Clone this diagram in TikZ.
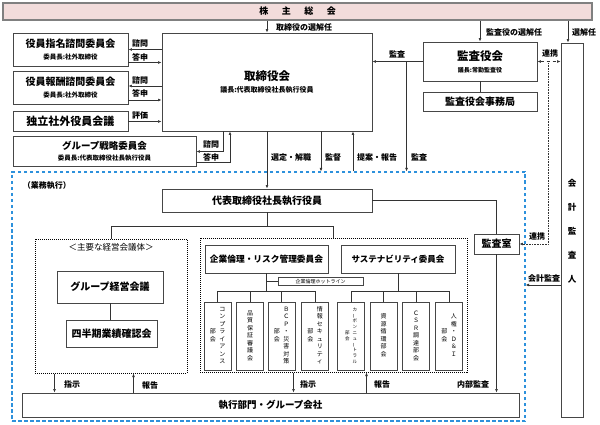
\documentclass[tikz,border=0pt]{standalone}
\usepackage{fontspec}
\setmainfont{Noto Sans CJK JP}
\usetikzlibrary{arrows.meta,calc}
\definecolor{soukaipink}{RGB}{242,220,219}
\definecolor{waku}{RGB}{70,70,70}
\definecolor{gyoumublue}{RGB}{45,145,220}
\newcommand{\tcol}[1]{\begin{tabular}{@{}c@{}}#1\end{tabular}}
\newcommand{\tbar}{\rotatebox[origin=c]{90}{ー}}

\begin{document}
\begin{tikzpicture}[x=1pt,y=-1pt,
  box/.style={draw=waku, line width=0.9pt, fill=white, inner sep=0pt, align=center, font=\bfseries\fontsize{10}{12}\selectfont},
  dotbox/.style={draw=black, densely dotted, line width=1pt, inner sep=0pt},
  lbl/.style={font=\bfseries\fontsize{8}{9}\selectfont, inner sep=0pt},
  conn/.style={draw=black!80, line width=0.6pt},
  arr/.style={conn, -{Latex[length=3.5pt,width=2.8pt]}},
  tate/.style={draw=waku, line width=0.9pt, fill=white, inner sep=0pt, minimum width=27pt, minimum height=68pt, font=\fontsize{6}{7.5}\selectfont}]
\useasboundingbox (0,0) rectangle (600,425);

\node[box, minimum width=589pt, minimum height=17pt, fill=soukaipink, draw=black!50, line width=1.2pt, font=\bfseries\fontsize{9}{10}\selectfont] (soukai) at (297.5,11.5) {株\hspace{1.5em}主\hspace{1.5em}総\hspace{1.5em}会};

\node[box, minimum width=115pt, minimum height=33pt] (shimei) at (70.5,49.5) {役員指名諮問委員会\\{\fontsize{6.5}{8}\selectfont 委員長:社外取締役}};
\node[box, minimum width=115pt, minimum height=33pt] (houshu) at (70.5,87.5) {役員報酬諮問委員会\\{\fontsize{6.5}{8}\selectfont 委員長:社外取締役}};
\node[box, minimum width=115pt, minimum height=20pt, font=\bfseries\fontsize{11}{12}\selectfont] (dokuritsu) at (70.5,121.5) {独立社外役員会議};
\node[box, minimum width=183pt, minimum height=30pt, font=\bfseries\fontsize{9.5}{11}\selectfont] (senryaku) at (104.5,151.5) {グループ戦略委員会\\{\fontsize{6.5}{8}\selectfont 委員長:代表取締役社長執行役員}};
\node[box, minimum width=210pt, minimum height=98pt] (torishimari) at (267,82) {{\fontsize{11.5}{14}\selectfont 取締役会}\\{\fontsize{7}{9}\selectfont 議長:代表取締役社長執行役員}};

\node[box, minimum width=114pt, minimum height=39pt] (kansayaku) at (480,61.5) {{\fontsize{11.5}{14}\selectfont 監査役会}\\{\fontsize{6}{8}\selectfont 議長:常勤監査役}};
\node[box, minimum width=114pt, minimum height=19pt] (jimu) at (480,101.5) {監査役会事務局};
\node[box, minimum width=22pt, minimum height=374pt, font=\bfseries\fontsize{8.5}{24}\selectfont] (kaikei) at (572,230) {\tcol{会\\計\\監\\査\\人}};

\node[draw=gyoumublue, line width=1.1pt, dash pattern=on 3.5pt off 2.5pt, minimum width=513pt, minimum height=249pt, inner sep=0pt] (gyoumu) at (268.5,296.5) {};
\node[lbl] (gyoumulbl) at (47,186) {（業務執行）};

\node[box, minimum width=210pt, minimum height=23pt] (ceo) at (267,200.5) {代表取締役社長執行役員};
\node[box, minimum width=45pt, minimum height=20pt] (kansashitsu) at (496.5,244) {監査室};
\node[box, minimum width=497pt, minimum height=24pt, font=\bfseries\fontsize{9.5}{11}\selectfont] (shikkou) at (270.5,405) {執行部門・グループ会社};

\node[dotbox, minimum width=152pt, minimum height=134pt] (kaigitai) at (111,306) {};
\node[font=\fontsize{8.5}{10}\selectfont, inner sep=0pt] (kaigitailbl) at (111,247) {＜主要な経営会議体＞};
\node[box, minimum width=106pt, minimum height=32pt] (keiei) at (110,287) {グループ経営会議};
\node[box, minimum width=91pt, minimum height=27pt] (shihanki) at (111.5,333.5) {四半期業績確認会};

\node[dotbox, minimum width=267pt, minimum height=134pt] (iinkai) at (333.5,305) {};
\node[box, minimum width=123pt, minimum height=28pt, font=\bfseries\fontsize{8.7}{10}\selectfont] (rinri) at (266.5,259) {企業倫理・リスク管理委員会};
\node[box, minimum width=114pt, minimum height=28pt, font=\bfseries\fontsize{8.5}{10}\selectfont] (sustain) at (398,259) {サステナビリティ委員会};
\node[box, minimum width=85pt, minimum height=8pt, line width=0.7pt, font=\fontsize{5}{6}\selectfont] (hotline) at (320.5,281.5) {企業倫理ホットライン};

\node[tate] (b1) at (217.5,336) {\tcol{部\\会}\hspace{3.5pt}\tcol{コ\\ン\\プ\\ラ\\イ\\ア\\ン\\ス}};
\node[tate] (b2) at (250,336) {\tcol{品\\質\\保\\証\\審\\議\\会}};
\node[tate] (b3) at (281.5,336) {\tcol{部\\会}\hspace{3.5pt}\tcol{Ｂ\\Ｃ\\Ｐ\\・\\災\\害\\対\\策}};
\node[tate] (b4) at (315,336) {\tcol{部\\会}\hspace{3.5pt}\tcol{情\\報\\セ\\キ\\ュ\\リ\\テ\\ィ}};
\node[tate, font=\fontsize{4.5}{5.8}\selectfont] (b5) at (351,336) {\tcol{部\\会}\hspace{3pt}\tcol{カ\\\tbar\\ボ\\ン\\ニ\\ュ\\\tbar\\ト\\ラ\\ル}};
\node[tate] (b6) at (383.5,336) {\tcol{資\\源\\循\\環\\部\\会}};
\node[tate] (b7) at (416,336) {\tcol{Ｃ\\Ｓ\\Ｒ\\調\\達\\部\\会}};
\node[tate] (b8) at (449,336) {\tcol{部\\会}\hspace{3.5pt}\tcol{人\\権\\・\\Ｄ\\＆\\Ｉ}};

% 株主総会から
\draw[arr] (soukai.south -| torishimari) -- (torishimari.north);
\node[lbl, anchor=west] at (276,27) {取締役の選解任};
\draw[arr] (soukai.south -| kansayaku) -- (kansayaku.north);
\node[lbl, anchor=west] at (486,32) {監査役の選解任};
\coordinate (senkai) at ($(kaikei.north)+(-4,0)$);
\draw[arr] (soukai.south -| senkai) -- (senkai);
\node[lbl, anchor=west] at (572,32) {選解任};

% 諮問・答申
\coordinate (shimeitoushin) at ($(shimei.east)+(0,13)$);
\coordinate (houshushimon) at ($(houshu.east)+(0,-1.5)$);
\coordinate (houshutoushin) at ($(houshu.east)+(0,12.5)$);
\draw[arr] (torishimari.west |- shimei.east) -- (shimei.east);
\draw[arr] (shimeitoushin) -- (shimeitoushin -| torishimari.west);
\draw[arr] (torishimari.west |- houshushimon) -- (houshushimon);
\draw[arr] (houshutoushin) -- (houshutoushin -| torishimari.west);
\draw[arr] (dokuritsu.east) -- (dokuritsu.east -| torishimari.west);
\node[lbl] at (140,43.5) {諮問};
\node[lbl] at (140,57) {答申};
\node[lbl] at (140,80.5) {諮問};
\node[lbl] at (140,93.5) {答申};
\node[lbl] at (140,115) {評価};

\coordinate (shimonx) at ($(torishimari.south)+(-44,0)$);
\coordinate (toushinx) at ($(torishimari.south)+(-37,0)$);
\draw[arr] (shimonx) |- (senryaku.east);
\draw[arr] ($(senryaku.east)+(0,11)$) -| (toushinx);
\node[lbl] at (211,144) {諮問};
\node[lbl] at (211,157) {答申};

% 監査役会から
\draw[arr] (kansayaku.west) -- (kansayaku.west -| torishimari.east);
\node[lbl] at (397,54) {監査};
\draw[conn] (kansayaku.south) -- (jimu.north);
\coordinate (kansax) at ($(kansayaku.west)+(-16,0)$);
\draw[arr] (kansax) -- (kansax |- gyoumu.north);
\node[lbl, anchor=west] at (411,157) {監査};

% 取締役会と業務執行
\draw[arr] (torishimari.south) -- (ceo.north);
\node[lbl, anchor=west] at (271,157) {選定・解職};
\coordinate (kantokux) at ($(torishimari.south)+(54,0)$);
\draw[arr] (kantokux) -- (kantokux |- gyoumu.north);
\node[lbl, anchor=west] at (325,157) {監督};
\coordinate (teianx) at ($(torishimari.south)+(86,0)$);
\draw[arr] (teianx |- gyoumu.north) -- (teianx);
\node[lbl, anchor=west] at (357,157) {提案・報告};

% 連携・会計監査
\draw[conn, dashed, {Latex[length=3.5pt,width=2.8pt]}-{Latex[length=3.5pt,width=2.8pt]}] (kansayaku.east) -- (kansayaku.east -| kaikei.west);
\node[lbl] at (550,53) {連携};
\coordinate (renkeix) at ($(kansayaku.east)+(11,0)$);
\draw[conn, densely dotted, -{Latex[length=3.5pt,width=2.8pt]}] (renkeix) |- (kansashitsu.east);
\node[lbl] at (537,236) {連携};
\coordinate (kaikeikansa) at ($(kaikei.west)+(0,55)$);
\draw[arr] (kaikeikansa) -- (kaikeikansa -| gyoumu.east);
\node[lbl] at (544,278) {会計監査};

% 監査室
\draw[conn] (ceo.east) -| (kansashitsu.north);
\draw[arr] (kansashitsu.south) -- (kansashitsu.south |- shikkou.north);
\node[lbl] at (473,384) {内部監査};

% 会議体へ
\coordinate (bunki) at ($(ceo.south)+(0,14)$);
\draw[conn] (ceo.south) -- (bunki);
\draw[conn] (kaigitai.north) |- (bunki) -| (iinkai.north);
\draw[conn] (keiei.south) -- (keiei.south |- shihanki.north);

\coordinate (rinrib) at ($(rinri.south)+(0,18)$);
\draw[conn] (rinri.south) -- (rinrib);
\draw[conn] (rinri.south |- hotline.west) -- (hotline.west);
\draw[conn] (b1.north |- rinrib) -- (b4.north |- rinrib);
\foreach \b in {b1,b2,b3,b4}
  \draw[conn] (\b.north) -- (\b.north |- rinrib);
\coordinate (sustainb) at ($(sustain.south)+(0,18)$);
\draw[conn] (sustain.south) -- (sustainb);
\draw[conn] (b5.north |- sustainb) -- (b8.north |- sustainb);
\foreach \b in {b5,b6,b7,b8}
  \draw[conn] (\b.north) -- (\b.north |- sustainb);

% 指示・報告
\coordinate (shijiL) at ($(kaigitai.south west)+(20,0)$);
\coordinate (houkokuL) at ($(kaigitai.south east)+(-54,0)$);
\coordinate (shijiR) at ($(iinkai.south west)+(94,0)$);
\coordinate (houkokuR) at ($(iinkai.south west)+(167,0)$);
\draw[arr] (shijiL) -- (shijiL |- shikkou.north);
\draw[arr] (houkokuL |- shikkou.north) -- (houkokuL);
\draw[arr] (shijiR) -- (shijiR |- shikkou.north);
\draw[arr] (houkokuR |- shikkou.north) -- (houkokuR);
\node[lbl] at (72,384) {指示};
\node[lbl] at (150,385) {報告};
\node[lbl] at (308,384) {指示};
\node[lbl] at (382,384) {報告};
\end{tikzpicture}
\end{document}
